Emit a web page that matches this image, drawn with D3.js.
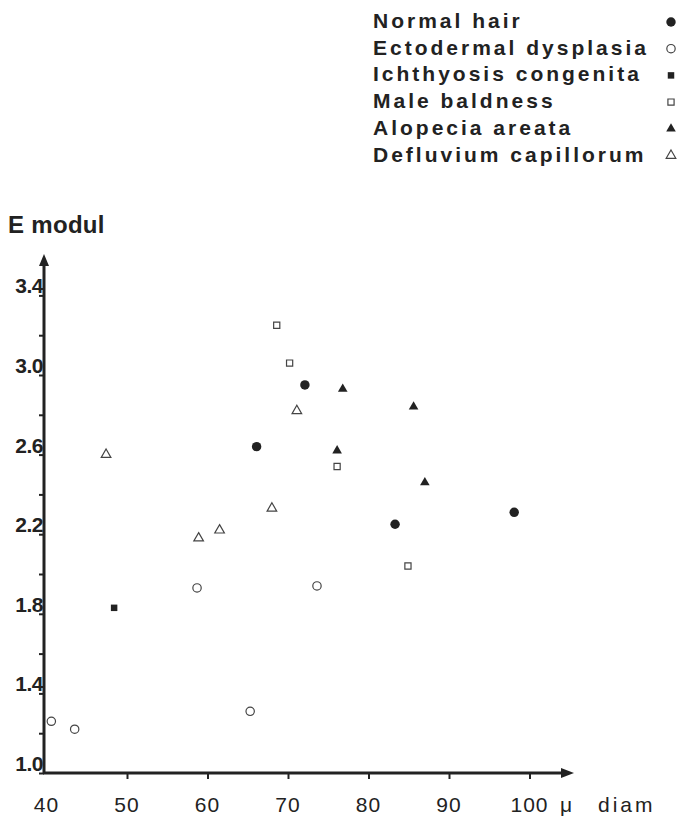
<!DOCTYPE html>
<html>
<head>
<meta charset="utf-8">
<script src="https://cdn.jsdelivr.net/npm/d3@7"></script>
<style>
  body { margin: 0; background: #fff; }
  text { font-family: "Liberation Sans", Arial, sans-serif; fill: #222; }
</style>
</head>
<body>
<svg width="680" height="826"></svg>
<script>
// Series (diameter in micron, E modul)
const normalHair = [[66.1, 2.64], [72.1, 2.95], [83.3, 2.25], [98.1, 2.31]];
const ectodermal = [[40.6, 1.26], [43.5, 1.22], [58.7, 1.93], [73.6, 1.94], [65.3, 1.31]];
const ichthyosis = [[48.4, 1.83]];
const maleBaldness = [[68.6, 3.25], [70.2, 3.06], [76.1, 2.54], [84.9, 2.04]];
const alopecia = [[76.8, 2.93], [85.6, 2.84], [76.1, 2.62], [87.0, 2.46]];
const defluvium = [[47.4, 2.60], [71.1, 2.82], [68.0, 2.33], [61.5, 2.22], [58.9, 2.18]];

const seriesNames = ["Normal hair", "Ectodermal dysplasia", "Ichthyosis congenita",
                     "Male baldness", "Alopecia areata", "Defluvium capillorum"];
const seriesData = [normalHair, ectodermal, ichthyosis, maleBaldness, alopecia, defluvium];

const xTicks = [40, 50, 60, 70, 80, 90, 100];
const yTicks = [1.0, 1.2, 1.4, 1.6, 1.8, 2.0, 2.2, 2.4, 2.6, 2.8, 3.0, 3.2, 3.4];
const yLabels = [1.0, 1.4, 1.8, 2.2, 2.6, 3.0, 3.4];

const ink = "#222";
const svg = d3.select("svg");

const x = d3.scaleLinear().domain([40, 100]).range([46.5, 529.5]);
const y = d3.scaleLinear().domain([1.0, 3.4]).range([773, 295.4]);

// marker shapes: circle, open circle, square, open square, triangle, open triangle
const symbols = [
  { type: d3.symbolCircle, size: 70, filled: true },
  { type: d3.symbolCircle, size: 55, filled: false },
  { type: d3.symbolSquare, size: 42, filled: true },
  { type: d3.symbolSquare, size: 38, filled: false },
  { type: d3.symbolTriangle, size: 40, filled: true },
  { type: d3.symbolTriangle, size: 40, filled: false }
];

function drawMarker(sel, i) {
  const s = symbols[i];
  sel.attr("d", d3.symbol().type(s.type).size(s.size)())
    .attr("fill", s.filled ? ink : "#fff")
    .attr("stroke", s.filled ? "none" : "#444")
    .attr("stroke-width", 1.2);
}

// axes
const axisY = d3.axisLeft(y).tickValues(yTicks).tickSize(5).tickFormat("");
const gy = svg.append("g").attr("transform", "translate(44,0)").call(axisY);
gy.select(".domain").remove();
gy.selectAll(".tick line").attr("stroke", ink).attr("stroke-width", 2);

const axisX = d3.axisBottom(x).tickValues(xTicks.slice(1)).tickSize(6).tickFormat("");
const gx = svg.append("g").attr("transform", "translate(0,773)").call(axisX);
gx.select(".domain").remove();
gx.selectAll(".tick line").attr("stroke", ink).attr("stroke-width", 2);

// axis lines with arrows
svg.append("line").attr("x1", 44).attr("y1", 774).attr("x2", 44).attr("y2", 262)
  .attr("stroke", ink).attr("stroke-width", 3);
svg.append("line").attr("x1", 43).attr("y1", 773).attr("x2", 565).attr("y2", 773)
  .attr("stroke", ink).attr("stroke-width", 3);
svg.append("path").attr("d", "M44,254 L39,266 L49,266 Z").attr("fill", ink);
svg.append("path").attr("d", "M574,773 L561,768 L561,778 Z").attr("fill", ink);

// tick labels
svg.append("g").selectAll("text").data(yLabels).join("text")
  .attr("x", 43).attr("y", d => y(d) - 2)
  .attr("text-anchor", "end")
  .attr("font-size", 21).attr("font-weight", "bold")
  .attr("letter-spacing", -0.5)
  .text(d => d.toFixed(1));

svg.append("g").selectAll("text").data(xTicks).join("text")
  .attr("x", d => x(d)).attr("y", 812)
  .attr("text-anchor", "middle")
  .attr("font-size", 21)
  .attr("letter-spacing", 1)
  .text(d => d);

svg.append("text").attr("x", 560).attr("y", 812).attr("font-size", 21).text("μ");
svg.append("text").attr("x", 598).attr("y", 812).attr("font-size", 21)
  .attr("letter-spacing", 3).text("diam");

svg.append("text").attr("x", 8).attr("y", 233)
  .attr("font-size", 24).attr("font-weight", "bold")
  .attr("letter-spacing", 0.3).text("E modul");

// points
seriesData.forEach((data, i) => {
  svg.append("g").selectAll("path").data(data).join("path")
    .attr("transform", d => `translate(${x(d[0])},${y(d[1])})`)
    .call(drawMarker, i);
});

// legend
const legend = svg.append("g");
seriesNames.forEach((name, i) => {
  const ly = 28 + i * 26.7;
  legend.append("text").attr("x", 373).attr("y", ly)
    .attr("font-size", 21).attr("font-weight", "bold")
    .attr("letter-spacing", 3)
    .text(name);
  legend.append("path").attr("transform", `translate(671,${ly - 6})`).call(drawMarker, i);
});
</script>
</body>
</html>
